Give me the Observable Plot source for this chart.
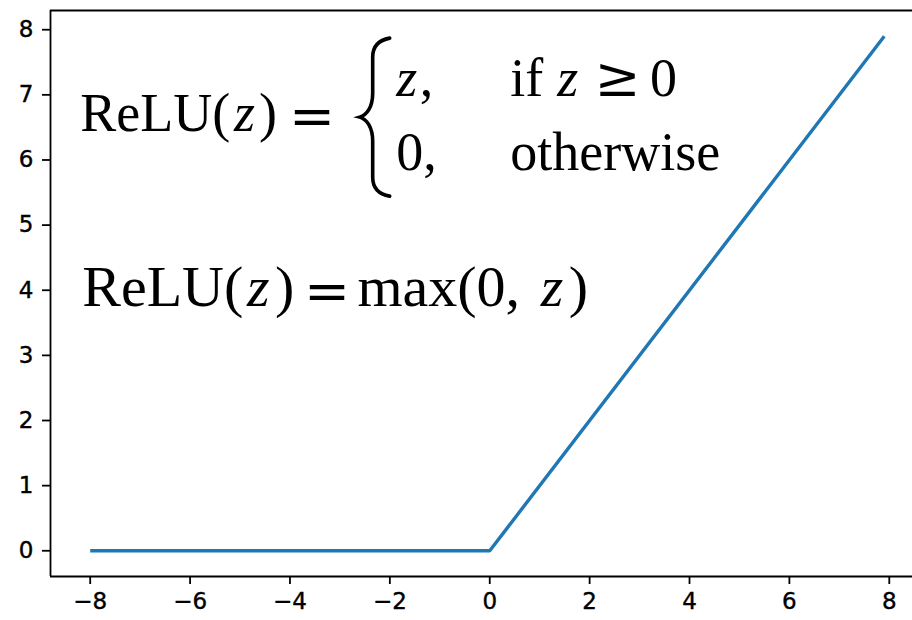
<!DOCTYPE html>
<html>
<head>
<meta charset="utf-8">
<script src="https://cdn.jsdelivr.net/npm/d3@7"></script>
<script src="https://cdn.jsdelivr.net/npm/@observablehq/plot@0.6"></script>
<style>
  html, body { margin: 0; padding: 0; background: #fff; }
  #chart svg { display: block; }
  #chart svg g[aria-label="x-axis tick label"],
  #chart svg g[aria-label="y-axis tick label"] {
    font-size: 23px !important;
    font-family: 'DejaVu Sans', sans-serif;
    stroke: black;
    stroke-width: 0.4px;
  }
</style>
</head>
<body>
<div id="chart"></div>
<script>
// Sampled ReLU curve: input z and output max(0, z)
const zValues = [-8, 0, 7.9];
const reluValues = [0, 0, 7.9];

// Tick values for both axes
const xTicks = [-8, -6, -4, -2, 0, 2, 4, 6, 8];
const yTicks = [0, 1, 2, 3, 4, 5, 6, 7, 8];

// Axis extents (data units)
const xDomain = [-8.795, 8.465];
const yDomain = [-0.395, 8.295];

// Piecewise definition, placed in data coordinates (left edge, baseline)
const casesUpright = [
  {x: -8.20, y: 6.44, text: "ReLU("},
  {x: -4.62, y: 6.44, text: ")"},
  {x: -1.40, y: 6.99, text: ","},
  {x: 0.41, y: 6.99, text: "if"},
  {x: 3.21, y: 6.99, text: "0"},
  {x: -1.873, y: 5.84, text: "0,"},
  {x: 0.41, y: 5.84, text: "otherwise"}
];
const casesItalic = [
  {x: -5.12, y: 6.44, text: "z"},
  {x: -1.873, y: 6.99, text: "z"},
  {x: 1.35, y: 6.99, text: "z"}
];
const casesRelations = [
  {x: -4.02, y: 6.38, text: "="},
  {x: 2.10, y: 6.99, text: "≥"}
];

// Closed form max(0, z)
const maxUpright = [
  {x: -8.16, y: 3.76, text: "ReLU("},
  {x: -4.30, y: 3.76, text: ")"},
  {x: -2.65, y: 3.76, text: "max(0,"},
  {x: 1.58, y: 3.76, text: ")"}
];
const maxItalic = [
  {x: -4.86, y: 3.76, text: "z"},
  {x: 1.02, y: 3.76, text: "z"}
];
const maxRelations = [
  {x: -3.72, y: 3.70, text: "="}
];

// Brace of the piecewise definition: tip position in data coordinates
const braceTip = {x: -2.594, y: 6.65};

const serif = "'Liberation Serif', 'Times New Roman', serif";
const mathSymbols = "'DejaVu Serif', serif";
const fs1 = 54, fs2 = 58;

function formulaText(data, size, options = {}) {
  return Plot.text(data, {
    x: "x", y: "y", text: "text",
    textAnchor: "start", lineAnchor: "top", dy: -0.71 * size,
    fontFamily: serif, fontSize: size, fill: "black",
    ...options
  });
}

// Curly brace drawn relative to its tip
function brace(anchor) {
  return (index, scales) => {
    const px = scales.x(anchor.x), py = scales.y(anchor.y);
    const h = 79;
    const d = `M 30,${-h} C 19,${-h + 2} 13,${-h + 8} 13,${-h + 19} L 13,-24 C 13,-10 7,-2 0,0 ` +
              `C 7,2 13,10 13,24 L 13,${h - 19} C 13,${h - 8} 19,${h - 2} 30,${h}`;
    return d3.create("svg:path")
      .attr("transform", `translate(${px},${py})`)
      .attr("d", d)
      .attr("fill", "none")
      .attr("stroke", "black")
      .attr("stroke-width", 3.6)
      .attr("stroke-linecap", "round")
      .node();
  };
}

const chart = Plot.plot({
  width: 912,
  height: 620,
  marginLeft: 50,
  marginRight: 0,
  marginTop: 10,
  marginBottom: 44,
  style: {fontFamily: "'DejaVu Sans', sans-serif", fontSize: "23px", color: "black", background: "white"},
  x: {domain: xDomain, label: null},
  y: {domain: yDomain, label: null},
  marks: [
    Plot.axisX({ticks: xTicks, tickSize: 8, tickPadding: 8, strokeWidth: 1.8, fontSize: 23, label: null}),
    Plot.axisY({ticks: yTicks, tickSize: 8, tickPadding: 9, strokeWidth: 1.8, fontSize: 23, label: null}),
    Plot.ruleX([xDomain[0]], {stroke: "black", strokeWidth: 1.8}),
    Plot.ruleY([yDomain[0], yDomain[1]], {stroke: "black", strokeWidth: 1.8}),
    Plot.line(zValues.map((z, i) => ({z, r: reluValues[i]})), {
      x: "z", y: "r", stroke: "#1f77b4", strokeWidth: 3.4, strokeLinejoin: "miter", strokeLinecap: "butt"
    }),
    formulaText(casesUpright, fs1),
    formulaText(casesItalic, fs1, {fontStyle: "italic"}),
    formulaText(casesRelations, 55, {fontFamily: mathSymbols}),
    brace(braceTip),
    formulaText(maxUpright, fs2),
    formulaText(maxItalic, fs2, {fontStyle: "italic"}),
    formulaText(maxRelations, 55, {fontFamily: mathSymbols})
  ]
});

document.getElementById("chart").appendChild(chart);
</script>
</body>
</html>
